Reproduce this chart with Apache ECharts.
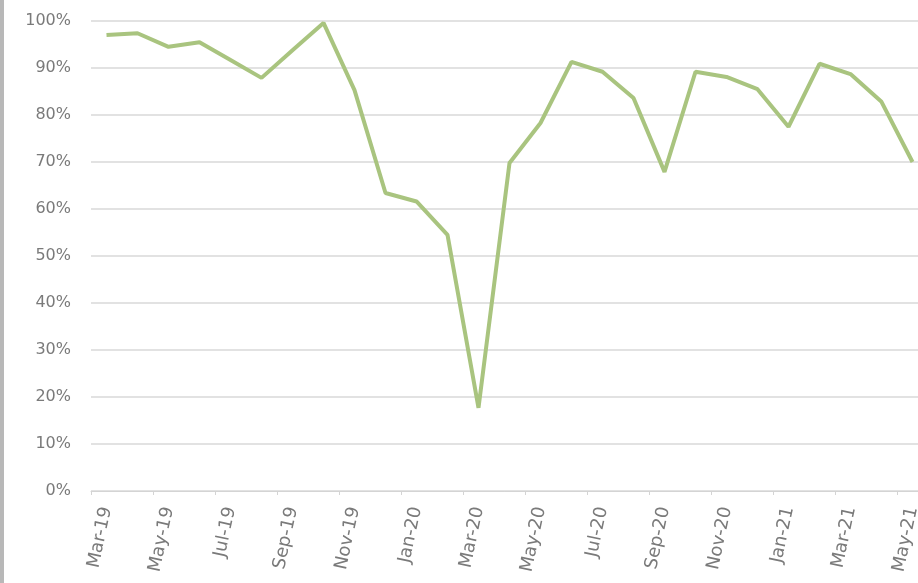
<!DOCTYPE html>
<html>
<head>
<meta charset="utf-8">
<script src="https://cdn.jsdelivr.net/npm/echarts@6/dist/echarts.min.js"></script>
<style>
  html, body { margin: 0; padding: 0; background: #fff; }
  #wrap { width: 918px; height: 583px; position: relative; overflow: hidden; }
  #edge { position: absolute; left: 0; top: 0; width: 4px; height: 583px; background: #b8b8b8; }
  #chart { position: absolute; left: 0; top: 0; width: 918px; height: 583px; }
</style>
</head>
<body>
<div id="wrap"><div id="chart"></div><div id="edge"></div></div>
<script>
const categories = ["Mar-19","Apr-19","May-19","Jun-19","Jul-19","Aug-19","Sep-19","Oct-19","Nov-19","Dec-19",
  "Jan-20","Feb-20","Mar-20","Apr-20","May-20","Jun-20","Jul-20","Aug-20","Sep-20","Oct-20","Nov-20","Dec-20",
  "Jan-21","Feb-21","Mar-21","Apr-21","May-21"];
const values = [97.0, 97.4, 94.5, 95.5, 91.7, 87.9, 93.8, 99.6, 85.3, 63.4,
  61.6, 54.5, 17.7, 69.8, 78.3, 91.3, 89.2, 83.6, 67.9, 89.2, 88.1, 85.5,
  77.5, 90.9, 88.7, 82.8, 70.0];
const yTicks = { min: 0, max: 100, step: 10 };

const chart = echarts.init(document.getElementById('chart'), null, { renderer: 'canvas' });
chart.setOption({
  animation: false,
  backgroundColor: '#ffffff',
  grid: { left: 91, width: 837, top: 21, bottom: 92, containLabel: false, outerBoundsMode: 'none' },
  xAxis: {
    type: 'category',
    data: categories,
    boundaryGap: true,
    axisLine: { show: true, lineStyle: { color: '#d4d4d4', width: 1 } },
    axisTick: { show: true, interval: 1, length: 4, lineStyle: { color: '#d4d4d4' } },
    axisLabel: {
      interval: 1, rotate: 78, margin: 16, hideOverlap: false,
      color: '#7a7a7a', fontFamily: 'DejaVu Sans', fontSize: 18
    },
    splitLine: { show: false }
  },
  yAxis: {
    type: 'value',
    min: yTicks.min, max: yTicks.max, interval: yTicks.step,
    axisLine: { show: false },
    axisTick: { show: false },
    axisLabel: { formatter: '{value}%', color: '#7a7a7a', fontFamily: 'DejaVu Sans', fontSize: 16, margin: 20 },
    splitLine: { show: true, lineStyle: { color: '#d9d9d9', width: 1.5 } }
  },
  series: [{
    type: 'line',
    data: values,
    showSymbol: false,
    symbol: 'none',
    lineStyle: { color: '#a9c47f', width: 4 },
    itemStyle: { color: '#a9c47f' }
  }]
});
</script>
</body>
</html>
